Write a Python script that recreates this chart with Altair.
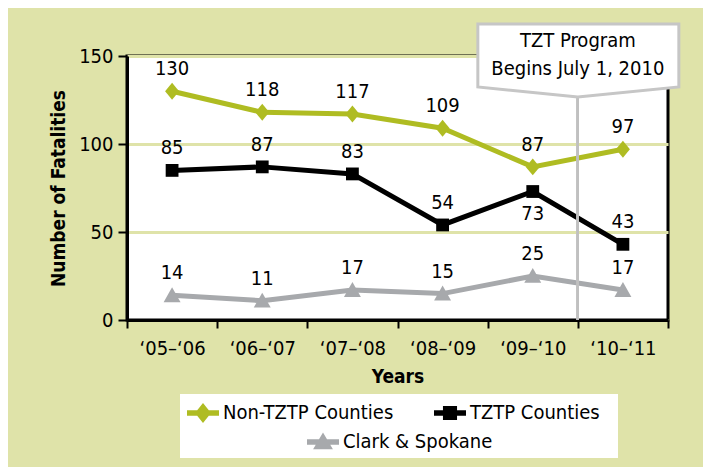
import altair as alt
import pandas as pd

years = ["‘05–‘06", "‘06–‘07", "‘07–‘08", "‘08–‘09", "‘09–‘10", "‘10–‘11"]
series_names = ["Non-TZTP Counties", "TZTP Counties", "Clark & Spokane"]
non_tztp = [130, 118, 117, 109, 87, 97]
tztp = [85, 87, 83, 54, 73, 43]
clark = [14, 11, 17, 15, 25, 17]
colors = ["#afbc22", "#000000", "#a7a9ac"]

program_year = "‘10–‘11"
callout_lines = ["TZT Program", "Begins July 1, 2010"]

rows = []
for name, vals in zip(series_names, [non_tztp, tztp, clark]):
    for yr, v in zip(years, vals):
        rows.append({"series": name, "year": yr, "value": v})
df = pd.DataFrame(rows)

FONT = "DejaVu Sans Condensed, Liberation Sans, sans-serif"
BG = "#dfe3a9"
FS = 20

# marker paths (chart) and legend symbol paths (bar + marker)
pt_paths = [
    "M0,-1.06L0.875,0L0,1.06L-0.875,0Z",
    "M-0.8,-0.8L0.8,-0.8L0.8,0.8L-0.8,0.8Z",
    "M0,-1L1.06,0.85L-1.06,0.85Z",
]
bar = "M-1,-0.17L1,-0.17L1,0.17L-1,0.17Z "
lg_paths = [
    bar + "M0,-0.62L0.5,0L0,0.62L-0.5,0Z",
    bar + "M-0.44,-0.44L0.44,-0.44L0.44,0.44L-0.44,0.44Z",
    bar + "M0,-0.6L0.62,0.45L-0.62,0.45Z",
]

xscale = alt.Scale(type="band", domain=years, paddingInner=0, paddingOuter=0)
x_enc = alt.X(
    "year:N",
    scale=xscale,
    bandPosition=0.5,
    axis=alt.Axis(
        title="Years", tickBand="extent", bandPosition=0.5, labelAngle=0,
        tickSize=8, tickWidth=2,
        tickColor="black", domainColor="black", domainWidth=3,
        labelFontSize=FS, labelPadding=10, labelColor="black",
        titleFontSize=19, titleFontWeight="bold", titlePadding=9, titleColor="black",
        grid=False,
    ),
)
y_enc = alt.Y(
    "value:Q",
    scale=alt.Scale(domain=[0, 150], nice=False),
    axis=alt.Axis(
        title="Number of Fatalities", values=[0, 50, 100, 150], tickSize=9,
        tickWidth=2, tickColor="black", domainColor="black", domainWidth=3,
        labelFontSize=FS, labelPadding=5, labelColor="black",
        titleFontSize=19, titleFontWeight="bold", titlePadding=10, titleColor="black",
        gridColor=BG, gridWidth=3,
    ),
)
color_scale = alt.Scale(domain=series_names, range=colors)

base = alt.Chart(df)

lines = base.mark_line(strokeWidth=5).encode(
    x=x_enc, y=y_enc,
    color=alt.Color("series:N", scale=color_scale, legend=None),
    detail="series:N",
)

rule = base.mark_rule(color="#c0c0c0", strokeWidth=2).encode(
    x=alt.XDatum(program_year, type="nominal", bandPosition=0),
    y=alt.YDatum(0, type="quantitative"),
    y2=alt.value(41),
)

points = base.mark_point(filled=True, opacity=1, size=256).encode(
    x=x_enc, y=y_enc,
    color=alt.Color("series:N", scale=color_scale, legend=None),
    shape=alt.Shape("series:N", scale=alt.Scale(domain=series_names, range=pt_paths), legend=None),
)

is_below = "datum.series == 'TZTP Counties' && datum.year == '‘09–‘10'"
labels_above = base.mark_text(fontSize=FS, dy=-22, color="black").encode(
    x=x_enc, y=y_enc, text="value:Q"
).transform_filter("!(" + is_below + ")")
labels_below = base.mark_text(fontSize=FS, dy=22, color="black").encode(
    x=x_enc, y=y_enc, text="value:Q"
).transform_filter(is_below)

one_row = "datum.series == 'TZTP Counties' && datum.year == '‘05–‘06'"
callout_box = base.mark_point(
    shape="M0,0L-1,-0.1L-1,-0.73L1.01,-0.73L1.01,-0.1Z",
    size=40000, filled=True, fill="white", stroke="#c6c6c6", strokeWidth=3, opacity=1,
).encode(
    x=alt.XDatum(program_year, type="nominal", bandPosition=0),
    y=alt.value(41),
).transform_filter(one_row)

callout_text = base.mark_text(
    text=callout_lines, fontSize=FS, lineHeight=28, align="center", baseline="middle",
    color="black",
).encode(
    x=alt.XDatum(program_year, type="nominal", bandPosition=0),
    y=alt.value(-15),
).transform_filter(one_row)

# white box behind the legend (decoration)
legend_bg = base.mark_rect(color="white", opacity=1).encode(
    x=alt.value(53), x2=alt.value(491), y=alt.value(338), y2=alt.value(402),
).transform_filter(one_row)


def legend_layer(values, lx, ly):
    props = dict(
        title=None, orient="none", legendX=lx, legendY=ly, values=values,
        direction="horizontal", padding=0,
        labelFontSize=FS, labelColor="black", labelOffset=4, labelLimit=400,
        symbolSize=1024, symbolStrokeWidth=0, symbolOpacity=1,
        columnPadding=40,
    )
    return base.mark_point(filled=True, opacity=1).encode(
        x=x_enc, y=y_enc,
        color=alt.Color("series:N", scale=color_scale, legend=alt.Legend(**props)),
        shape=alt.Shape("series:N", scale=alt.Scale(domain=series_names, range=lg_paths),
                        legend=alt.Legend(**props)),
    ).transform_filter("datum.value < 0")


legend_row1 = legend_layer(series_names[:2], 60, 341)
legend_row2 = legend_layer(series_names[2:], 180, 370)

chart = alt.layer(
    lines, rule, points, labels_above, labels_below, callout_box, callout_text,
    legend_bg, legend_row1, legend_row2,
).resolve_scale(
    color="independent", shape="independent"
).properties(
    width=541, height=264,
    autosize=alt.AutoSizeParams(type="none"),
    padding={"left": 119, "top": 48, "right": 35, "bottom": 147},
    background=BG,
).configure(
    font=FONT,
).configure_view(
    fill="white", stroke="black", strokeWidth=3,
)

chart.save("out.html", embed_options={"renderer": "svg", "actions": False})
